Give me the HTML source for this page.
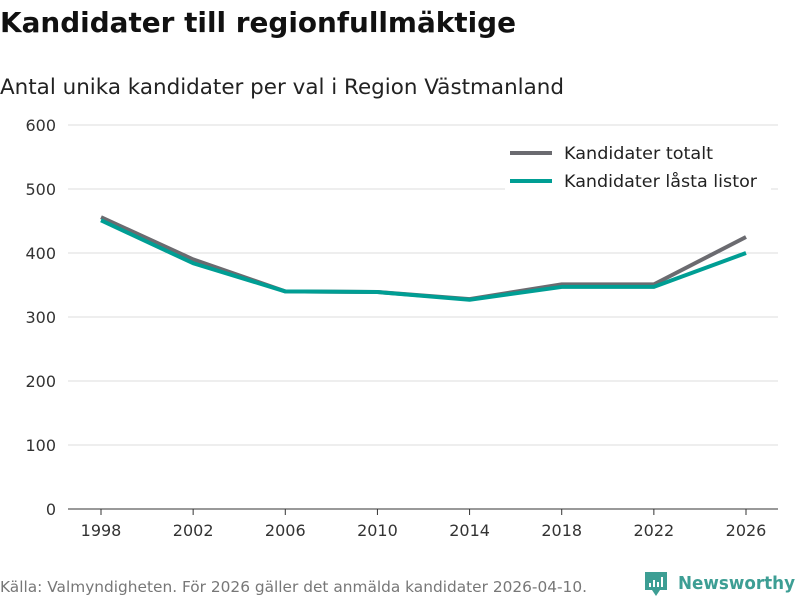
<!DOCTYPE html>
<html><head><meta charset="utf-8"><style>
body{margin:0;width:800px;height:600px;background:#fff;font-family:"DejaVu Sans","Liberation Sans",sans-serif;overflow:hidden}
svg{display:block}
</style></head><body>
<svg id="chart" width="800" height="600">
<text x="0" y="32" font-size="28" font-weight="bold" fill="#111" textLength="516" lengthAdjust="spacingAndGlyphs">Kandidater till regionfullmäktige</text>
<text x="0" y="94" font-size="21.5" fill="#222" textLength="564" lengthAdjust="spacingAndGlyphs">Antal unika kandidater per val i Region Västmanland</text>
<g id="grid"></g><g id="lines"></g>
<g>
<rect x="505" y="138" width="266" height="60" fill="#fff"/>
<line x1="510" y1="153" x2="552" y2="153" stroke="#6b6b70" stroke-width="4"/>
<text x="564" y="159" font-size="17" fill="#222" textLength="149" lengthAdjust="spacingAndGlyphs">Kandidater totalt</text>
<line x1="510" y1="181" x2="552" y2="181" stroke="#009e94" stroke-width="4"/>
<text x="564" y="187" font-size="17" fill="#222" textLength="193" lengthAdjust="spacingAndGlyphs">Kandidater låsta listor</text>
</g>
<text x="0" y="592" font-size="15" fill="#777" textLength="587" lengthAdjust="spacingAndGlyphs">Källa: Valmyndigheten. För 2026 gäller det anmälda kandidater 2026-04-10.</text>
<g>
<path d="M645 572 h22 v18 h-7 l-4 6 l-4 -6 h-7z" fill="#3d9e94"/>
<rect x="649" y="583" width="2" height="4" fill="#fff"/><rect x="653" y="580" width="2" height="7" fill="#fff"/><rect x="657" y="582" width="2" height="5" fill="#fff"/><rect x="661" y="577" width="2" height="10" fill="#fff"/>
<text x="678" y="589" font-size="18" font-weight="bold" fill="#3d9e94" textLength="117" lengthAdjust="spacingAndGlyphs">Newsworthy</text>
</g>
</svg>
<script>
const years=["1998","2002","2006","2010","2014","2018","2022","2026"];
const totalt=[456,390,340,339,328,351,351,425];
const lasta=[451,384,340,339,327,347,347,400];
const yTicks=[0,100,200,300,400,500,600];
const NS="http://www.w3.org/2000/svg";
const x=i=>101+i*(746-101)/(years.length-1);
const y=v=>509-v*0.64;
function mk(t,a,p){const e=document.createElementNS(NS,t);for(const k in a)e.setAttribute(k,a[k]);p.appendChild(e);return e;}
const g=document.getElementById('grid');
yTicks.forEach(v=>{
 const l=mk('line',{x1:68,x2:778,y1:y(v),y2:y(v),stroke:v===0?'#333':'#ddd','stroke-width':1},g);
 
 
 const t=mk('text',{x:56,y:y(v)+6,'font-size':16,fill:'#333','text-anchor':'end'},g);t.textContent=v;
 
 
});
years.forEach((yr,i)=>{
 const l=mk('line',{x1:x(i),x2:x(i),y1:509,y2:515,stroke:'#333'},g);
 
 
 const t=mk('text',{x:x(i),y:536,'font-size':16,fill:'#333','text-anchor':'middle'},g);t.textContent=yr;
 
 
});
const L=document.getElementById('lines');
[[totalt,'#6b6b70','line-totalt'],[lasta,'#009e94','line-lasta']].forEach(([d,c,n])=>{
 const p=mk('polyline',{points:d.map((v,i)=>x(i)+','+y(v)).join(' '),fill:'none',stroke:c,'stroke-width':4,'stroke-linejoin':'round'},L);
 
 
});
</script>
</body></html>
